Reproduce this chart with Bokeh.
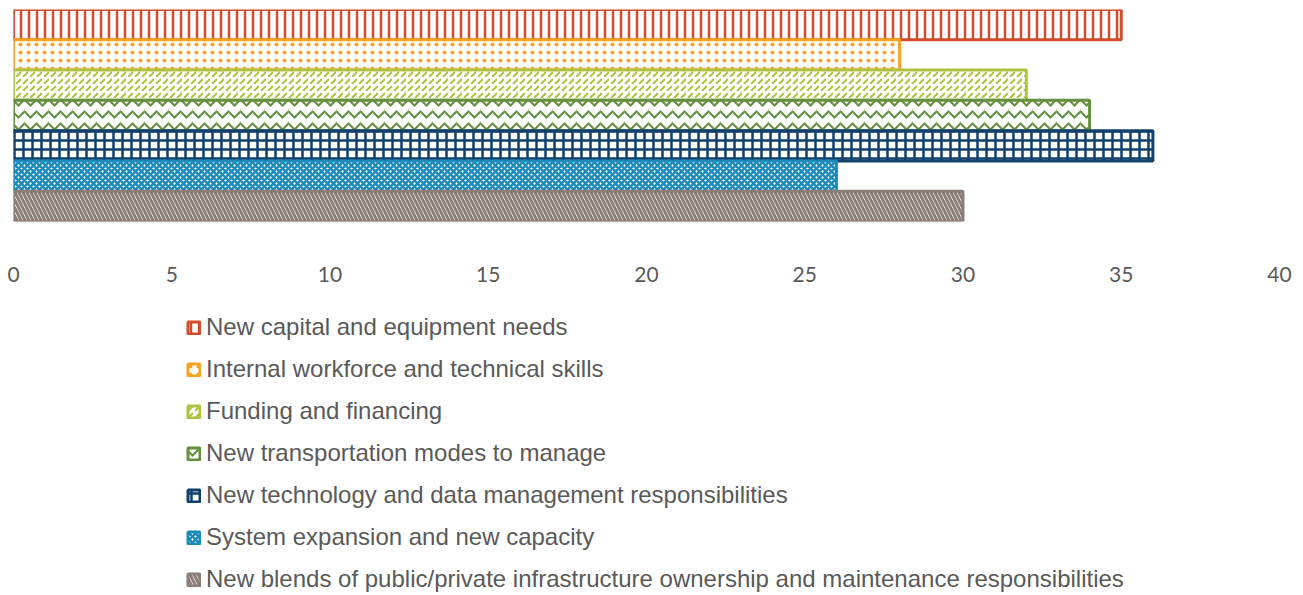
from bokeh.plotting import figure
from bokeh.layouts import column
from bokeh.models import ColumnDataSource, FactorRange, Range1d, FixedTicker, Legend, LegendItem
from bokeh.embed import file_html
from bokeh.resources import INLINE

categories = [
    "New capital and equipment needs",
    "Internal workforce and technical skills",
    "Funding and financing",
    "New transportation modes to manage",
    "New technology and data management responsibilities",
    "System expansion and new capacity",
    "New blends of public/private infrastructure ownership and maintenance responsibilities",
]
values = [35, 28, 32, 34, 36, 26, 30]
x_ticks = [0, 5, 10, 15, 20, 25, 30, 35, 40]

# styles
colors = ["#D64B2E", "#F8A21D", "#AFC23E", "#62903E", "#10406B", "#1A8AB8", "#8A7E76"]
patterns = ["vertical_line", "dot", "right_diagonal_dash", "horizontal_wave",
            "cross", "diagonal_cross", "left_diagonal_line"]
hscale = [8, 8, 7, 12, 9, 6, 8]
hweight = [2.5, 4, 2, 2, 2.5, 2.5, 3]

source = ColumnDataSource(dict(cat=categories, val=values, color=colors, pat=patterns,
                               hs=hscale, hw=hweight))

bar_style = dict(fill_color="white", line_color="color", line_width=3,
                 hatch_pattern="pat", hatch_color="color", hatch_scale="hs", hatch_weight="hw")

# --- main chart ---
p = figure(
    y_range=FactorRange(factors=list(reversed(categories)), range_padding=0),
    x_range=Range1d(0, 40),
    width=1293, height=296,
    min_border_left=13, min_border_right=14, min_border_top=9, min_border_bottom=75,
    output_backend="svg", toolbar_location=None,
)
p.hbar(y="cat", right="val", left=0, height=1.0, source=source, **bar_style)

p.yaxis.visible = False
p.xgrid.visible = False
p.ygrid.visible = False
p.outline_line_color = None

ax = p.xaxis[0]
ax.ticker = FixedTicker(ticks=x_ticks)
ax.axis_line_color = None
ax.major_tick_line_color = None
ax.minor_tick_line_color = None
ax.major_tick_out = 0
ax.major_tick_in = 0
ax.major_label_standoff = 45
ax.major_label_text_font = "Lato"
ax.major_label_text_font_size = "21px"
ax.major_label_text_color = "#595959"

# --- legend strip (same bars, hidden renderer; only its legend shows) ---
q = figure(
    y_range=FactorRange(factors=list(reversed(categories)), range_padding=0),
    x_range=Range1d(0, 40),
    width=1293, height=298,
    min_border_left=0, min_border_right=0, min_border_top=0, min_border_bottom=0,
    output_backend="svg", toolbar_location=None,
)
r2 = q.hbar(y="cat", right="val", left=0, height=1.0, source=source, **bar_style)
r2.visible = False
q.axis.visible = False
q.grid.visible = False
q.outline_line_color = None

items = [LegendItem(label=c, renderers=[r2], index=i) for i, c in enumerate(categories)]
legend = Legend(
    items=items, location=(173, 1),
    glyph_width=15, glyph_height=15, label_height=28, spacing=14,
    label_standoff=5, padding=0, margin=0,
    label_text_font="Liberation Sans", label_text_font_size="24px", label_text_color="#595959",
    border_line_color=None, background_fill_alpha=0,
)
q.add_layout(legend, "center")

layout = column(p, q, spacing=0)
open("out.html", "w").write(file_html(layout, INLINE))
